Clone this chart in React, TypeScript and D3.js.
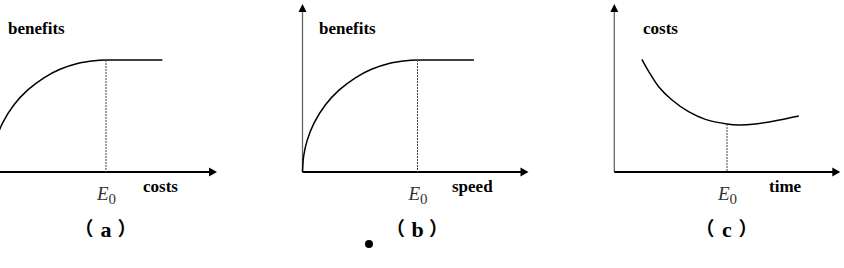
import React from "react";
import * as d3 from "d3";

// ---- data (x, y in abstract units) ----
const benefitsCurve: [number, number][] = [
  [0, 0], [0.05, 0.99], [0.2, 1.96], [0.5, 3.05], [1.0, 4.2], [1.6, 5.13],
  [2.3, 5.89], [3.0, 6.42], [3.8, 6.8], [4.5, 6.96], [5, 7],
];
const plateau: [number, number][] = [[5, 7], [7.45, 7]];
const costsCurve: [number, number][] = [
  [1.2, 7.04], [1.5, 6.27], [1.93, 5.33], [2.51, 4.5], [3.23, 3.77], [3.96, 3.29],
  [4.9, 3.0], [5.41, 2.94], [6.13, 3.0], [7.0, 3.2], [8.02, 3.5],
];
const e0Values = [5, 5, 4.9];
const e0Heights = [7, 7, 3.0];
const yLabels = ["benefits", "benefits", "costs"];
const xLabels = ["costs", "speed", "time"];
const panelTags = ["a", "b", "c"];

const W = 844;
const H = 268;
const origins = [-9, 302.5, 614.3];
const AXIS_Y = 172;
const AXIS_LEN = 226;
const yLabelOffsets = [17, 16.5, 28.7];
const xLabelOffsets = [152, 149.5, 154.7];

const SERIF = "'Liberation Serif', 'Times New Roman', serif";
const CJK = "'Noto Sans CJK SC', sans-serif";

export default function App() {
  const panels = [0, 1, 2].map((i) => {
    const ox = origins[i];
    const x = d3.scaleLinear().domain([0, 10]).range([ox, ox + 230]);
    const y = d3.scaleLinear().domain([0, 10]).range([AXIS_Y, AXIS_Y - 160]);
    const line = d3
      .line<[number, number]>()
      .x((d) => x(d[0]))
      .y((d) => y(d[1]))
      .curve(d3.curveCatmullRom.alpha(0.5));
    const straight = d3
      .line<[number, number]>()
      .x((d) => x(d[0]))
      .y((d) => y(d[1]));
    const curvePath = i === 2 ? line(costsCurve) : line(benefitsCurve);
    const xe = x(e0Values[i]);
    const tip = ox + AXIS_LEN;
    return (
      <g key={i}>
        <line x1={ox} x2={ox} y1={AXIS_Y} y2={11} stroke="#666" strokeWidth={1.3} />
        <path d={`M${ox},4 L${ox - 4},12 L${ox + 4},12 Z`} fill="#000" />
        <line x1={ox} x2={tip - 6} y1={AXIS_Y} y2={AXIS_Y} stroke="#000" strokeWidth={1.8} />
        <path d={`M${tip},${AXIS_Y} L${tip - 8},${AXIS_Y - 4.5} L${tip - 8},${AXIS_Y + 4.5} Z`} fill="#000" />
        <path d={curvePath || ""} fill="none" stroke="#000" strokeWidth={1.5} />
        {i !== 2 && (
          <path d={straight(plateau) || ""} fill="none" stroke="#000" strokeWidth={1.5} />
        )}
        <line
          x1={xe}
          x2={xe}
          y1={y(e0Heights[i])}
          y2={AXIS_Y}
          stroke="#444"
          strokeWidth={1}
          strokeDasharray="2,1"
        />
        <text x={ox + yLabelOffsets[i]} y={34} style={{ fontFamily: SERIF, fontWeight: "bold", fontSize: 17 }} fill="#000">
          {yLabels[i]}
        </text>
        <text x={ox + xLabelOffsets[i]} y={192} style={{ fontFamily: SERIF, fontWeight: "bold", fontSize: 17 }} fill="#000">
          {xLabels[i]}
        </text>
        <text x={xe - 9} y={200} style={{ fontFamily: SERIF, fontStyle: "italic", fontSize: 19 }} fill="#333">
          E
          <tspan style={{ fontStyle: "normal", fontSize: 15 }} dx={0} dy={4}>0</tspan>
        </text>
        <text x={xe - 31.5} y={236} style={{ fontFamily: CJK, fontSize: 19, fontWeight: "bold" }} fill="#000">（</text>
        <text x={xe} y={237} textAnchor="middle" style={{ fontFamily: SERIF, fontWeight: "bold", fontSize: 22 }} fill="#000">
          {panelTags[i]}
        </text>
        <text x={xe + 11.5} y={236} style={{ fontFamily: CJK, fontSize: 19, fontWeight: "bold" }} fill="#000">）</text>
      </g>
    );
  });

  return (
    <svg width={W} height={H} style={{ position: "absolute", left: 0, top: 0, background: "#fff" }}>
      <rect x={0} y={0} width={W} height={H} fill="#fff" />
      {panels}
      <circle cx={369} cy={244} r={4} fill="#000" />
    </svg>
  );
}
